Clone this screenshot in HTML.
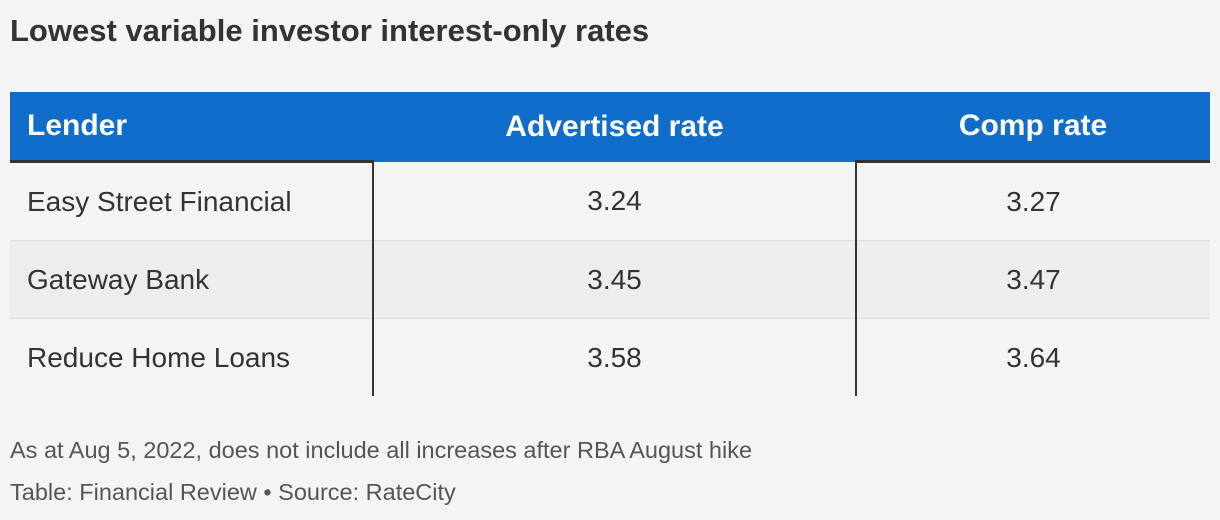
<!DOCTYPE html>
<html><head><meta charset="utf-8"><style>
body{margin:0;width:1220px;height:520px;background:#f4f4f4;font-family:"Liberation Sans",sans-serif;color:#333;position:relative;overflow:hidden}
.t{position:absolute;left:10px;top:13px;font-size:31px;font-weight:bold;color:#333;white-space:nowrap}
table{position:absolute;left:10px;top:92px;width:1200px;border-collapse:collapse;font-size:28px;table-layout:fixed}
th{background:#106dc9;color:#fff;height:68px;font-weight:bold;border-bottom:3px solid #333;padding:0;font-size:30px}
td{height:77px;padding:0;border-top:1px solid #ddd}
tr.r2 td{background:#ededed}
.c1{text-align:left;padding-left:17px;width:346px}
.c2{text-align:center;width:483px;border-left:2px solid #333;border-right:2px solid #333}
th.c2{border:none}
.c3{text-align:center}
.f{position:absolute;left:10px;font-size:23.5px;color:#555;white-space:nowrap}
</style></head><body>
<div class="t">Lowest variable investor interest-only rates</div>
<table>
<tr><th class="c1">Lender</th><th class="c2">Advertised rate</th><th class="c3">Comp rate</th></tr>
<tr><td class="c1" style="border-top:none">Easy Street Financial</td><td class="c2" style="border-top:none">3.24</td><td class="c3" style="border-top:none">3.27</td></tr>
<tr class="r2"><td class="c1">Gateway Bank</td><td class="c2">3.45</td><td class="c3">3.47</td></tr>
<tr><td class="c1">Reduce Home Loans</td><td class="c2">3.58</td><td class="c3">3.64</td></tr>
</table>
<div class="f" style="top:437px">As at Aug 5, 2022, does not include all increases after RBA August hike</div>
<div class="f" style="top:479px">Table: Financial Review • Source: RateCity</div>
</body></html>
